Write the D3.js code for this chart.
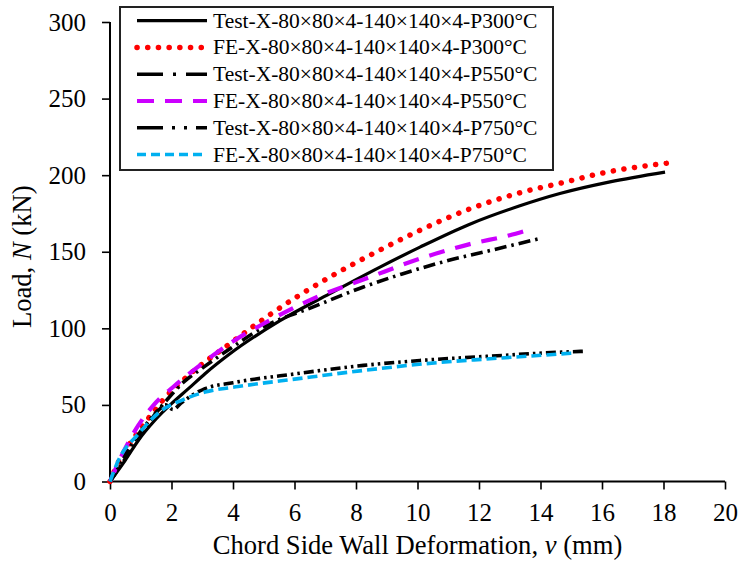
<!DOCTYPE html>
<html>
<head>
<meta charset="utf-8">
<script src="https://cdn.jsdelivr.net/npm/d3@7"></script>
<style>
  html, body { margin: 0; padding: 0; background: #fff; }
  svg { display: block; font-family: "Liberation Serif", "Times New Roman", serif; }
</style>
</head>
<body>
<svg id="chart" width="743" height="564"></svg>
<script>
// Load–deformation curves, chord side wall, X-joints at elevated temperature
const seriesNames = [
  "Test-X-80×80×4-140×140×4-P300°C",
  "FE-X-80×80×4-140×140×4-P300°C",
  "Test-X-80×80×4-140×140×4-P550°C",
  "FE-X-80×80×4-140×140×4-P550°C",
  "Test-X-80×80×4-140×140×4-P750°C",
  "FE-X-80×80×4-140×140×4-P750°C"
];

// [deformation v (mm), load N (kN)]
const test300 = [[0,0],[0.49,13.7],[0.92,26.8],[1.46,40],[2.0,50.8],[2.55,60.6],[3.09,70.4],[3.9,83.4],
  [5.53,105],[7.15,122.7],[8.78,140],[10.08,153],[11.7,168],[13.33,180],[14.63,188],[16.26,195.6],[18.05,202]];
const fe300 = [[0,0],[0.29,13.3],[0.8,29],[1.28,42],[1.73,53.4],[2.49,68.2],[3.9,90],[4.99,106],[6.07,120.5],
  [7.15,133.5],[8.67,150],[10.08,164],[11.7,178],[13.33,188.5],[14.7,195],[16.04,201.5],[18.16,208]];
const test550 = [[0,0],[0.5,15],[1.0,30],[1.5,45],[1.84,53],[2.4,65],[3.0,74],[4.0,88],[4.99,100.8],
  [6.61,114],[8.24,127],[9.5,135.5],[10.95,144],[12.4,151],[13.95,158.5]];
const fe550 = [[0,0],[0.49,21.4],[0.92,36.6],[1.41,49.7],[2.11,62.7],[2.71,72.5],[4.12,93],[4.99,103],
  [6.61,119.4],[8.46,133.5],[10.08,145.5],[11.7,155],[13.0,160.8],[13.5,163.6]];
const test750 = [[0,0],[0.3,10],[0.7,24],[1.2,38],[1.6,47],[1.8,50],[2.05,47],[2.3,51],[2.66,56.2],
  [3.09,60.6],[4.0,64.5],[6.07,70.4],[8.24,75.8],[10.08,79],[12.25,81.7],[14.74,84.5],[15.4,85]];
const fe750 = [[0,0],[0.27,13.7],[0.92,31],[1.68,46.4],[2.33,53],[3.09,58.4],[4.17,62],[6.07,67],
  [8.24,72.5],[10.2,76.8],[12.25,80],[14.6,83.2],[15.0,83.8]];

const seriesValues = [test300, fe300, test550, fe550, test750, fe750];

const xTicks = [0, 2, 4, 6, 8, 10, 12, 14, 16, 18, 20];
const yTicks = [0, 50, 100, 150, 200, 250, 300];

// Stroke styles, one per series (plot line, legend sample)
const styles = [
  { color: "#000000", width: 3.2, dash: null, legendDash: null, cap: "butt" },
  { color: "#FF0000", width: 5.5, dash: "0.1,10.6", legendDash: "0.1,10.6", cap: "round" },
  { color: "#000000", width: 3.6, dash: "12,5,2.5,5", legendDash: "26,10,3,10", cap: "butt" },
  { color: "#CC00FF", width: 4.2, dash: "16,11", legendDash: "17,11", cap: "butt" },
  { color: "#000000", width: 3.6, dash: "10,4,2.5,4,2.5,4", legendDash: "26,9,3,9,3,9", cap: "butt" },
  { color: "#00B0F0", width: 3.6, dash: "10,5", legendDash: "9,5", cap: "butt" }
];

const svg = d3.select("#chart");

const x = d3.scaleLinear().domain([0, 20]).range([110, 725]);
const y = d3.scaleLinear().domain([0, 300]).range([481.5, 22]);

// Minor ticks
const xMinor = d3.range(0, 21, 1).filter(v => v % 2 !== 0);
const yMinor = d3.range(0, 301, 10).filter(v => v % 50 !== 0);

const gx = svg.append("g").attr("transform", `translate(0,${y(0)})`);
gx.call(d3.axisBottom(x).tickValues(xMinor).tickSize(5).tickFormat(""));
gx.call(d3.axisBottom(x).tickValues(xTicks).tickSize(8).tickPadding(14).tickFormat(d3.format("d")));
gx.selectAll(".domain").attr("stroke", "#000").attr("stroke-width", 2);
gx.selectAll(".tick line").attr("stroke", "#000").attr("stroke-width", 1.6);
gx.selectAll(".tick text").attr("font-size", 25).attr("font-family", "Liberation Serif").attr("fill", "#000");

const gy = svg.append("g").attr("transform", `translate(${x(0)},0)`);
gy.call(d3.axisLeft(y).tickValues(yMinor).tickSize(6).tickFormat(""));
gy.call(d3.axisLeft(y).tickValues(yTicks).tickSize(8).tickPadding(16).tickFormat(d3.format("d")));
gy.selectAll(".domain").attr("stroke", "#000").attr("stroke-width", 2);
gy.selectAll(".tick line").attr("stroke", "#000").attr("stroke-width", 1.6);
gy.selectAll(".tick text").attr("font-size", 25).attr("font-family", "Liberation Serif").attr("fill", "#000");
// plain axis lines without end caps
gx.selectAll(".domain").attr("d", `M${x(0)},0H${x(20)}`);
gy.selectAll(".domain").attr("d", `M0,${y(0)}V${y(300)}`);

// Curves
const line = d3.line()
  .x(d => x(d[0]))
  .y(d => y(d[1]))
  .curve(d3.curveMonotoneX);

const plot = svg.append("g");
seriesValues.forEach((data, i) => {
  const s = styles[i];
  plot.append("path")
    .datum(data)
    .attr("d", line)
    .attr("fill", "none")
    .attr("stroke", s.color)
    .attr("stroke-width", s.width)
    .attr("stroke-linecap", s.cap)
    .attr("stroke-linejoin", "round")
    .attr("stroke-dasharray", s.dash);
});

// Axis titles
const xTitle = svg.append("text")
  .attr("x", (x(0) + x(20)) / 2)
  .attr("y", 554)
  .attr("text-anchor", "middle")
  .attr("font-size", 26.6)
  .attr("fill", "#000");
xTitle.append("tspan").text("Chord Side Wall Deformation, ");
xTitle.append("tspan").attr("font-style", "italic").text("v");
xTitle.append("tspan").text(" (mm)");

const yTitle = svg.append("text")
  .attr("transform", `translate(31,${(y(0) + y(300)) / 2 + 5}) rotate(-90)`)
  .attr("text-anchor", "middle")
  .attr("font-size", 26.6)
  .attr("fill", "#000");
yTitle.append("tspan").text("Load, ");
yTitle.append("tspan").attr("font-style", "italic").text("N");
yTitle.append("tspan").text(" (kN)");

// Legend
const legend = svg.append("g");
legend.append("rect")
  .attr("x", 120).attr("y", 7)
  .attr("width", 433).attr("height", 163)
  .attr("fill", "#fff")
  .attr("stroke", "#222")
  .attr("stroke-width", 2);

const rowY = d3.scaleLinear().domain([0, 5]).range([20.7, 154.5]);
seriesNames.forEach((name, i) => {
  const s = styles[i];
  const cy = rowY(i);
  legend.append("line")
    .attr("x1", 137).attr("x2", 207)
    .attr("y1", cy).attr("y2", cy)
    .attr("stroke", s.color)
    .attr("stroke-width", s.width)
    .attr("stroke-linecap", s.cap)
    .attr("stroke-dasharray", s.legendDash);
  legend.append("text")
    .attr("x", 213)
    .attr("y", cy + 7)
    .attr("font-size", 21.5)
    .attr("fill", "#000")
    .text(name);
});
</script>
</body>
</html>
